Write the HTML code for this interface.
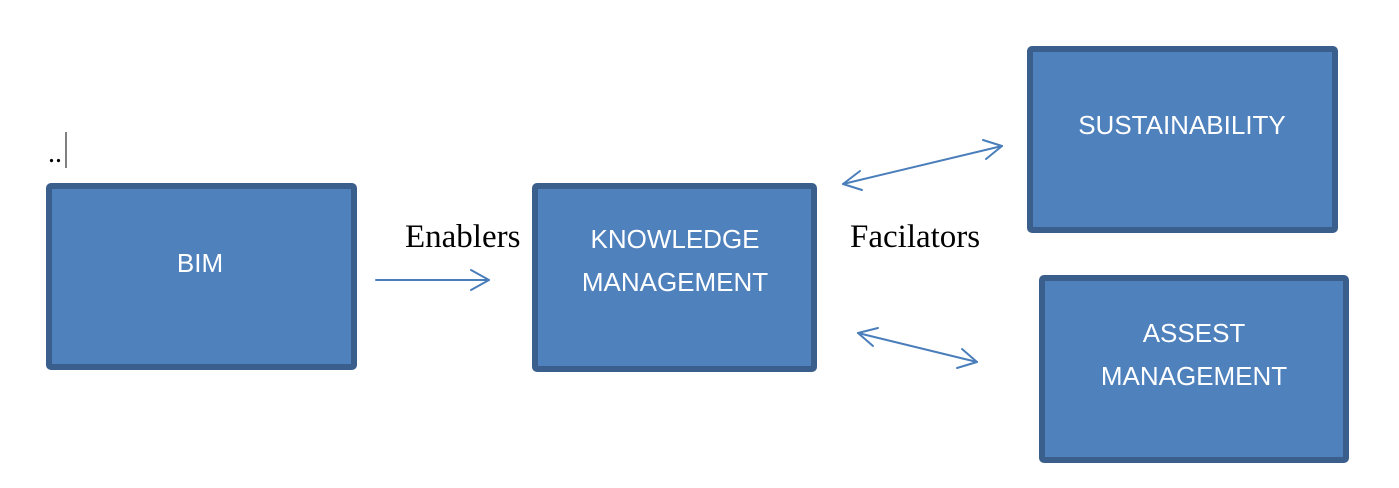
<!DOCTYPE html>
<html>
<head>
<meta charset="utf-8">
<style>
  html, body { margin:0; padding:0; background:#ffffff; }
  body { width:1399px; height:488px; overflow:hidden; }
  svg { display:block; }
  .box { fill:#4f81bd; stroke:#3a5f8c; stroke-width:6; }
  .bt { font-family:"Liberation Sans", Arial, sans-serif; font-size:26px; fill:#ffffff; text-anchor:middle; }
  .lab { font-family:"Liberation Serif", "Times New Roman", serif; font-size:33px; fill:#000; }
  .arr { stroke:#4a7ebb; stroke-width:2; fill:none; stroke-linecap:round; stroke-linejoin:round; }
</style>
</head>
<body>
<svg width="1399" height="488" viewBox="0 0 1399 488" xmlns="http://www.w3.org/2000/svg">
  <!-- dots and cursor -->
  <text x="48" y="162" font-family="Liberation Serif, serif" font-size="28" fill="#000">..</text>
  <line x1="66" y1="132" x2="66" y2="168" stroke="#000" stroke-width="1"/>

  <!-- boxes -->
  <rect class="box" x="49" y="186" width="305" height="181" rx="2"/>
  <text class="bt" x="200" y="272">BIM</text>

  <rect class="box" x="535" y="186" width="279" height="183" rx="2"/>
  <text class="bt" x="675" y="248">KNOWLEDGE</text>
  <text class="bt" x="675" y="291">MANAGEMENT</text>

  <rect class="box" x="1030" y="49" width="305" height="181" rx="2"/>
  <text class="bt" x="1182" y="134">SUSTAINABILITY</text>

  <rect class="box" x="1042" y="278" width="304" height="182" rx="2"/>
  <text class="bt" x="1194" y="342">ASSEST</text>
  <text class="bt" x="1194" y="385">MANAGEMENT</text>

  <!-- labels -->
  <text class="lab" x="405" y="247">Enablers</text>
  <text class="lab" x="850" y="247">Facilators</text>

  <!-- Enablers arrow -->
  <line class="arr" x1="376" y1="280" x2="489" y2="280"/>
  <polyline class="arr" points="471,270 489,280 471,290"/>

  <!-- top double arrow -->
  <line class="arr" x1="843" y1="184" x2="1002" y2="146"/>
  <polyline class="arr" points="860,171 843,184 862,190"/>
  <polyline class="arr" points="983,140 1002,146 986,159"/>

  <!-- bottom double arrow -->
  <line class="arr" x1="858" y1="333" x2="977" y2="362"/>
  <polyline class="arr" points="878,328 858,333 873,346"/>
  <polyline class="arr" points="962,349 977,362 957,368"/>
</svg>
</body>
</html>
